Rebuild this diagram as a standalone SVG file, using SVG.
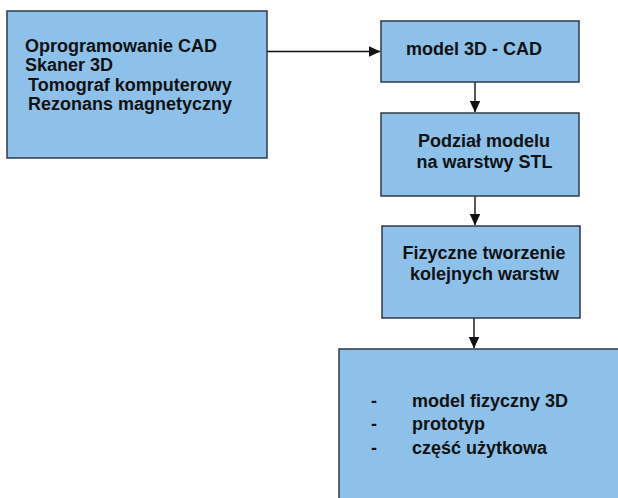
<svg xmlns="http://www.w3.org/2000/svg" width="618" height="498" viewBox="0 0 618 498">
<defs>
<style>
.box{fill:#8EC1E9;stroke:#2f3a45;stroke-width:1.5}
.t{font-family:"Liberation Sans",Arial,sans-serif;font-weight:bold;font-size:18px;fill:#111}
.c{stroke:#111;stroke-width:1.4;fill:none}
</style>
<marker id="ah" markerWidth="12" markerHeight="11" refX="11.5" refY="5.5" orient="auto" markerUnits="userSpaceOnUse">
<path d="M0,0 L12,5.5 L0,11 Z" fill="#111"/>
</marker>
</defs>
<rect width="618" height="498" fill="#fff"/>
<g id="connectors">
<line class="c" x1="267" y1="51.5" x2="380" y2="51.5" marker-end="url(#ah)"/>
<line class="c" x1="475" y1="82" x2="475" y2="112" marker-end="url(#ah)"/>
<line class="c" x1="475" y1="196" x2="475" y2="225" marker-end="url(#ah)"/>
<line class="c" x1="474" y1="318" x2="474" y2="348" marker-end="url(#ah)"/>
</g>
<g id="sources">
<rect class="box" x="7" y="11" width="260" height="147"/>
<text class="t" x="25" y="51.5">Oprogramowanie CAD</text>
<text class="t" x="25" y="71">Skaner 3D</text>
<text class="t" x="28" y="91">Tomograf komputerowy</text>
<text class="t" x="28" y="110">Rezonans magnetyczny</text>
</g>
<g id="model3d">
<rect class="box" x="381" y="21" width="198" height="61"/>
<text class="t" x="406" y="55">model 3D - CAD</text>
</g>
<g id="podzial">
<rect class="box" x="381" y="113" width="198" height="83"/>
<text class="t" x="484" y="147" text-anchor="middle">Podział modelu</text>
<text class="t" x="484.5" y="168" text-anchor="middle">na warstwy STL</text>
</g>
<g id="fizyczne">
<rect class="box" x="382" y="226" width="198" height="92"/>
<text class="t" x="484" y="259" text-anchor="middle">Fizyczne tworzenie</text>
<text class="t" x="484.5" y="280" text-anchor="middle">kolejnych warstw</text>
</g>
<g id="wynik">
<rect class="box" x="339" y="349" width="290" height="160"/>
<text class="t" x="371" y="407">-</text>
<text class="t" x="412" y="407">model fizyczny 3D</text>
<text class="t" x="371" y="430">-</text>
<text class="t" x="412" y="430">prototyp</text>
<text class="t" x="371" y="454">-</text>
<text class="t" x="412" y="454">część użytkowa</text>
</g>
</svg>
